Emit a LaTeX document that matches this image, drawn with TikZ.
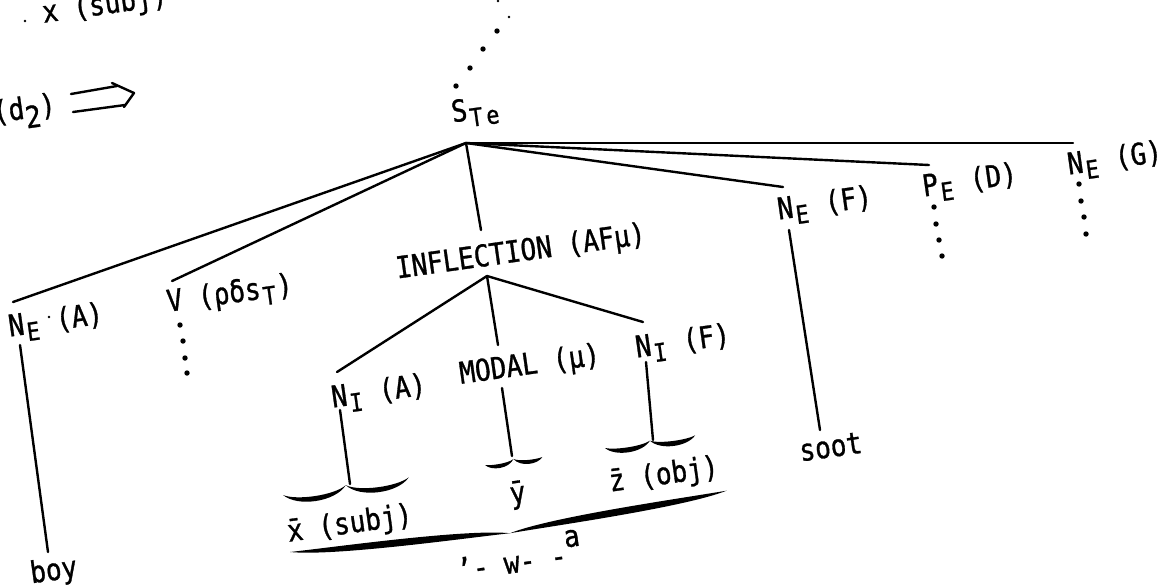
\documentclass[tikz,border=0pt]{standalone}
\usepackage{fontspec}
\setmainfont{DejaVu Sans Mono}[FakeStretch=0.87,FakeBold=1]
\newcommand\lo[1]{\raisebox{-3.5pt}{\makebox[0.55em]{\fontsize{12.5}{12.5}\selectfont #1}}}
% tapered brace: #1 origin, #2 width, #3 body offset, #4 cusp offset, #5 thickness
\newcommand\tbrace[5]{%
  \begin{scope}[shift={#1},rotate=8]
    \pgfmathsetmacro\brB{(#3-#4/8)/0.75}
    \pgfmathsetmacro\brT{#5/1.5}
    \fill (0,0) .. controls ({0.1*#2},{\brB+\brT}) and ({0.4*#2},{\brB+\brT}) .. ({0.5*#2},{#4})
          .. controls ({0.4*#2},{\brB-\brT}) and ({0.1*#2},{\brB-\brT}) .. cycle;
    \fill (#2,0) .. controls ({0.9*#2},{\brB+\brT}) and ({0.6*#2},{\brB+\brT}) .. ({0.5*#2},{#4})
          .. controls ({0.6*#2},{\brB-\brT}) and ({0.9*#2},{\brB-\brT}) .. cycle;
  \end{scope}}
\begin{document}
\begin{tikzpicture}[x=0.5pt,y=-0.5pt,
  font=\fontsize{15}{17}\selectfont,
  lbl/.style={anchor=base,rotate=8,inner sep=0pt},
  tree/.style={line width=1.2pt,line cap=round},
  arr/.style={line width=1.2pt,line cap=round,line join=round}]
\useasboundingbox (0,0) rectangle (1171,585);

% ---- labels
\node[lbl] (xsubjtop) at (106,14) {x (subj)};
\node[lbl,anchor=base west] (d2) at (-6,123) {(d\raisebox{-5pt}{2})};
\node[lbl] (STe) at (477,119) {S\lo{T}\lo{e}};
\node[lbl] (NEA) at (57,330) {N\lo{E}\phantom{.}(A)};
\node[lbl] (V) at (231,303) {V (ρδs\lo{T})};
\node[lbl] (INFL) at (522,261) {INFLECTION (AFμ)};
\node[lbl] (NIA) at (380,401) {N\lo{I} (A)};
\node[lbl] (MODAL) at (531,374) {MODAL (μ)};
\node[lbl] (NIF) at (684,351) {N\lo{I} (F)};
\node[lbl] (NEF) at (826,213) {N\lo{E} (F)};
\node[lbl] (PED) at (971,190) {P\lo{E} (D)};
\node[lbl] (NEG) at (1116,168) {N\lo{E} (G)};
\node[lbl] (boy) at (55,580) {boy};
\node[lbl] (soot) at (832,457) {soot};
\node[lbl] (xbar) at (351,533) {\=x (subj)};
\node[lbl] (ybar) at (519,503) {\=y};
\node[lbl] (zbar) at (665,484) {\=z (obj)};
\node[lbl] (wa) at (521,572) {’- w- -\raisebox{9pt}{a}};

% ---- connector end points
\coordinate (root) at (466,143);
\coordinate (rA) at (13,302);
\coordinate (rV) at (172,281);
\coordinate (rI) at (481,230);
\coordinate (rF) at (783,187);
\coordinate (rD) at (929,165);
\coordinate (rG) at (1073,143);
\coordinate (fork) at (487,276);
\coordinate (fA) at (337,372);
\coordinate (fM) at (498,345);
\coordinate (fF) at (643,322);
\coordinate (aTop) at (20,345);
\coordinate (aBot) at (48,552);
\coordinate (fTop) at (789,230);
\coordinate (fBot) at (820,430);
\coordinate (iaTop) at (340,410);
\coordinate (iaBot) at (350,484);
\coordinate (mTop) at (502,388);
\coordinate (mBot) at (512,456);
\coordinate (ifTop) at (646,362);
\coordinate (ifBot) at (653,440);

% ---- tree
\draw[tree] (root) -- (rA);
\draw[tree] (root) -- (rV);
\draw[tree] (root) -- (rI);
\draw[tree] (root) -- (rF);
\draw[tree] (root) -- (rD);
\draw[tree] (root) -- (rG);
\draw[tree] (fork) -- (fA);
\draw[tree] (fork) -- (fM);
\draw[tree] (fork) -- (fF);
\draw[tree] (aTop) -- (aBot);
\draw[tree] (fTop) -- (fBot);
\draw[tree] (iaTop) -- (iaBot);
\draw[tree] (mTop) -- (mBot);
\draw[tree] (ifTop) -- (ifBot);

% ---- braces
\tbrace{(283,495)}{127}{8}{-1}{5}
\tbrace{(485,465)}{58}{3}{-2}{4}
\tbrace{(605,448)}{91}{5}{-1}{5}
\tbrace{(290,552)}{441}{6}{12}{7}

% ---- double arrow
\draw[arr] (71,94) -- (117,86);
\draw[arr] (73,112) -- (125,105);
\draw[arr] (112,83) -- (134,93) -- (124,107);

% ---- dots
\foreach \p in {(497,31),(483,49),(470,68),(456,86),
  (180,325),(183,341),(185,358),(187,373),
  (934,207),(936,224),(939,240),(942,256),
  (1079,184),(1081,201),(1084,217),(1086,234)}
  \fill \p circle (2.7);
\foreach \p in {(498,1),(509,17),(49,317),(25,21)}
  \fill \p circle (1.3);
\end{tikzpicture}
\end{document}
